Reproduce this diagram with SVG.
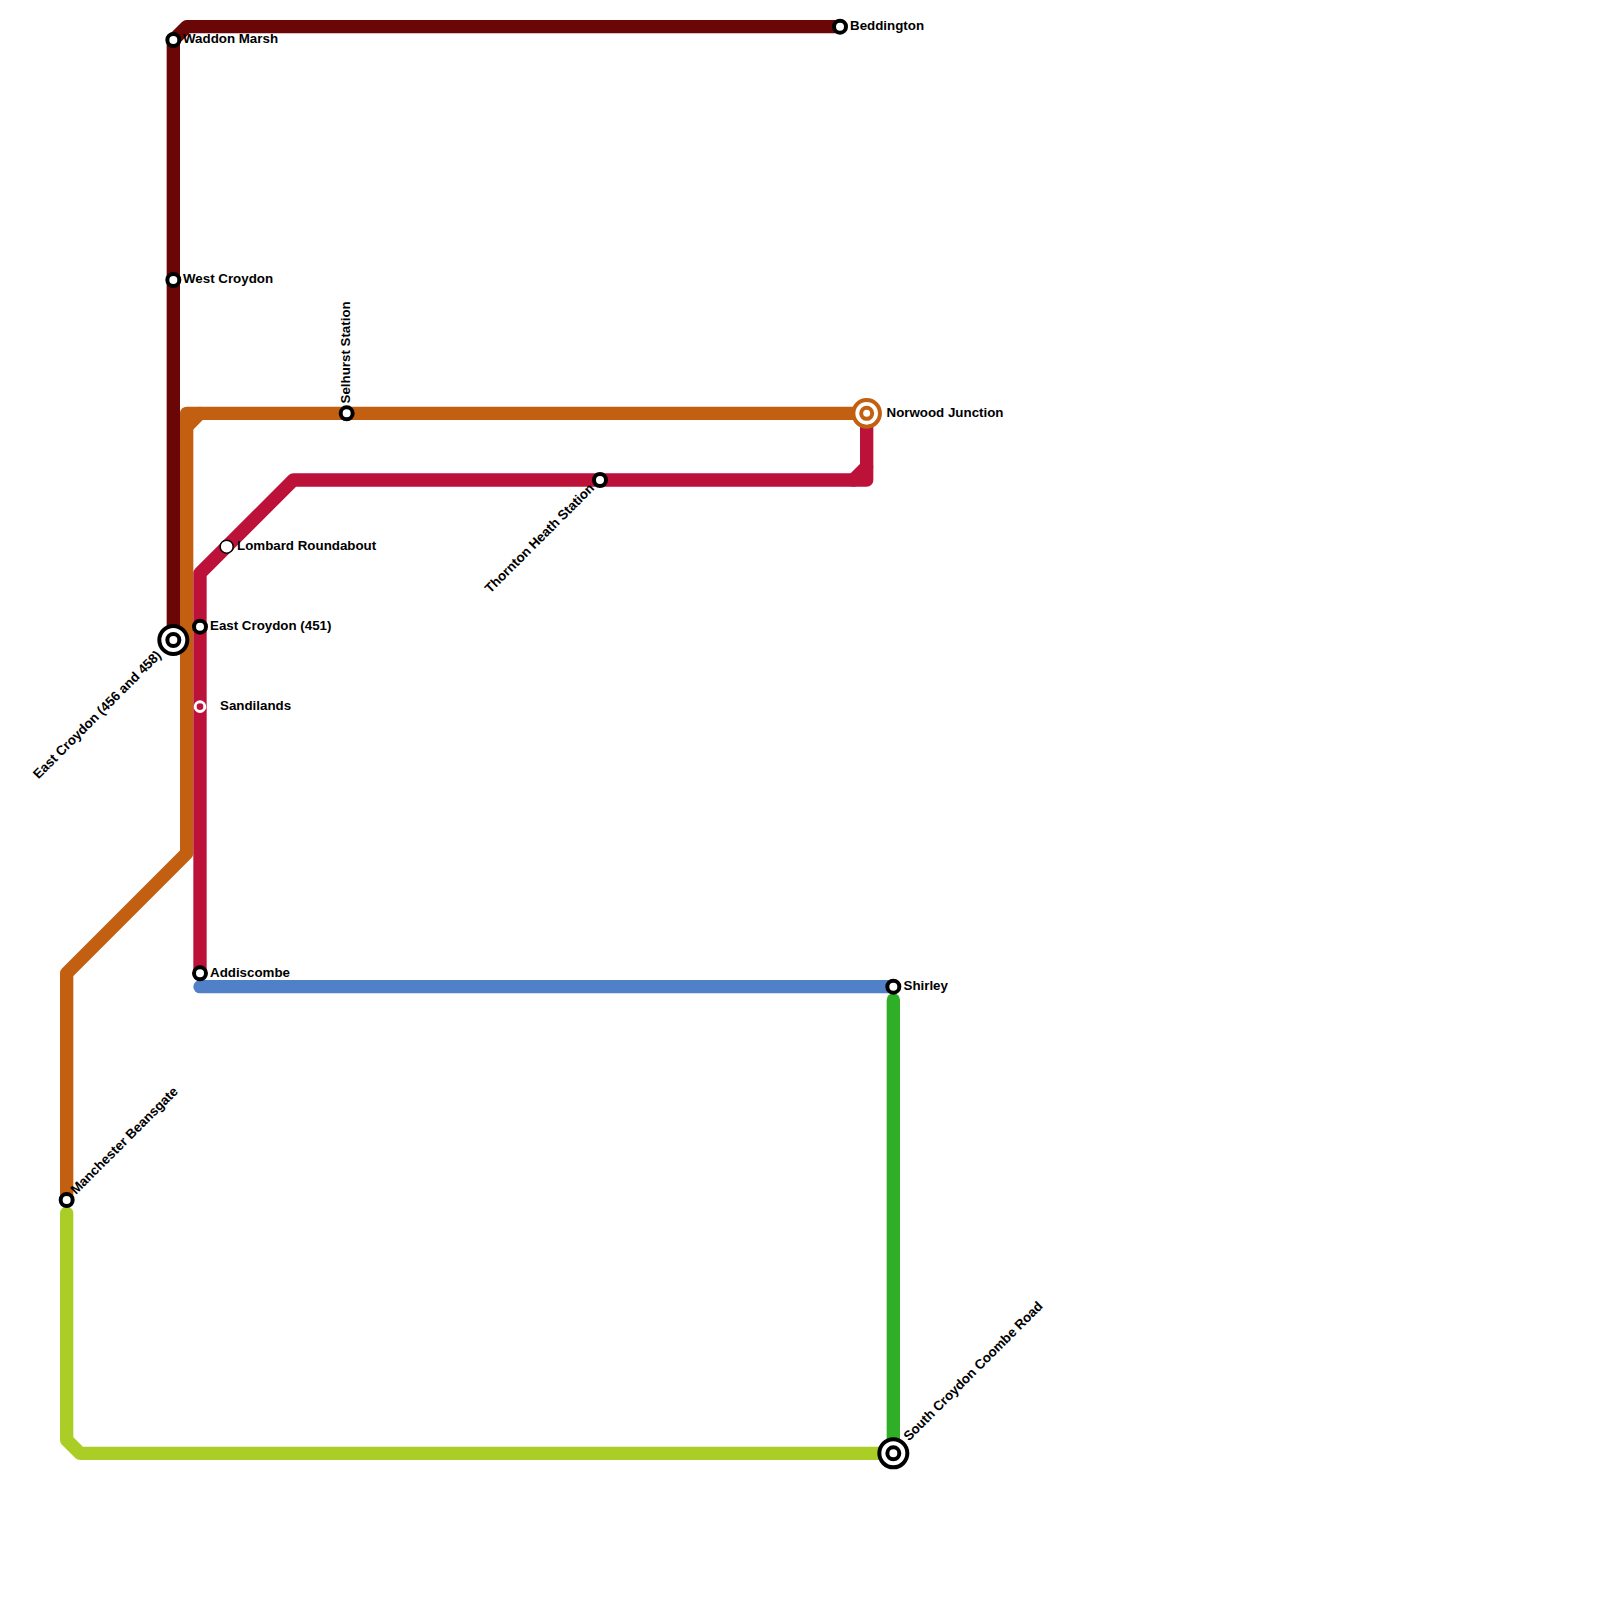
<svg xmlns="http://www.w3.org/2000/svg" width="1600" height="1600" viewBox="0 0 1600 1600">
<style>
.l{fill:none;stroke-width:13.33;stroke-linecap:round;stroke-linejoin:round}
.t{font-family:"Liberation Sans",Arial,sans-serif;font-size:13.33px;font-weight:700;fill:#000}
.s{fill:#fff;stroke:#000;stroke-width:4}
</style>
<rect width="1600" height="1600" fill="#fff"/>
<g id="connectors">
<path class="l" stroke="#6b0606" d="M173.33 640V40L186.67 26.67H840"/>
<path class="l" stroke="#c25f10" d="M866.67 413.33H186.67V853.33L66.67 973.33V1200"/>
<path class="l" stroke="#c25f10" d="M200 413.33L186.67 426.67"/>
<path class="l" stroke="#bc1138" d="M866.67 413.33V480H293.33L200 573.33V973.33"/>
<path class="l" stroke="#bc1138" d="M853.33 480L866.67 466.67"/>
<path class="l" stroke="#5081c8" d="M200 986.67H893.33"/>
<path class="l" stroke="#2fae27" d="M893.33 1000V1453.33"/>
<path class="l" stroke="#abce27" d="M66.67 1213.33V1440L80 1453.33H893.33"/>
</g>
<g id="waddon-marsh"><circle class="s" cx="173.33" cy="40" r="6"/><text class="t" x="183" y="43">Waddon Marsh</text></g>
<g id="beddington"><circle class="s" cx="840" cy="26.67" r="6"/><text class="t" x="850" y="30">Beddington</text></g>
<g id="west-croydon"><circle class="s" cx="173.33" cy="280" r="6"/><text class="t" x="183" y="283">West Croydon</text></g>
<g id="selhurst"><circle class="s" cx="346.67" cy="413.33" r="6"/><text class="t" transform="translate(349.5 403.5) rotate(-90)">Selhurst Station</text></g>
<g id="norwood"><circle cx="866.67" cy="413.33" r="13.3" fill="#fff" stroke="#c25f10" stroke-width="4"/><circle cx="866.67" cy="413.33" r="5.5" fill="#fff" stroke="#c25f10" stroke-width="4"/><text class="t" x="886.5" y="416.5">Norwood Junction</text></g>
<g id="thornton-heath"><circle class="s" cx="600" cy="480" r="6"/><text class="t" text-anchor="end" transform="translate(595 489) rotate(-45)">Thornton Heath Station</text></g>
<g id="lombard"><circle cx="226.67" cy="546.67" r="6.5" fill="#fff" stroke="#000" stroke-width="1.5"/><text class="t" x="237" y="550">Lombard Roundabout</text></g>
<g id="east-croydon-451"><circle class="s" cx="200" cy="626.67" r="6"/><text class="t" x="210" y="630">East Croydon (451)</text></g>
<g id="east-croydon-456"><circle cx="173.33" cy="640" r="14" fill="#fff" stroke="#000" stroke-width="4"/><circle cx="173.33" cy="640" r="6" fill="#fff" stroke="#000" stroke-width="4"/><text class="t" text-anchor="end" transform="translate(162 656) rotate(-45)">East Croydon (456 and 458)</text></g>
<g id="sandilands"><circle cx="200" cy="706.67" r="4.8" fill="#bc1138" stroke="#fff" stroke-width="3"/><text class="t" x="220" y="710">Sandilands</text></g>
<g id="addiscombe"><circle class="s" cx="200" cy="973.33" r="6"/><text class="t" x="210" y="977">Addiscombe</text></g>
<g id="shirley"><circle class="s" cx="893.33" cy="986.67" r="6"/><text class="t" x="903.5" y="990">Shirley</text></g>
<g id="manchester"><circle class="s" cx="66.67" cy="1200" r="6"/><text class="t" transform="translate(76 1195) rotate(-45)">Manchester Beansgate</text></g>
<g id="south-croydon"><circle cx="893.33" cy="1453.33" r="14" fill="#fff" stroke="#000" stroke-width="4"/><circle cx="893.33" cy="1453.33" r="6" fill="#fff" stroke="#000" stroke-width="4"/><text class="t" transform="translate(909 1441.5) rotate(-45)">South Croydon Coombe Road</text></g>
</svg>
